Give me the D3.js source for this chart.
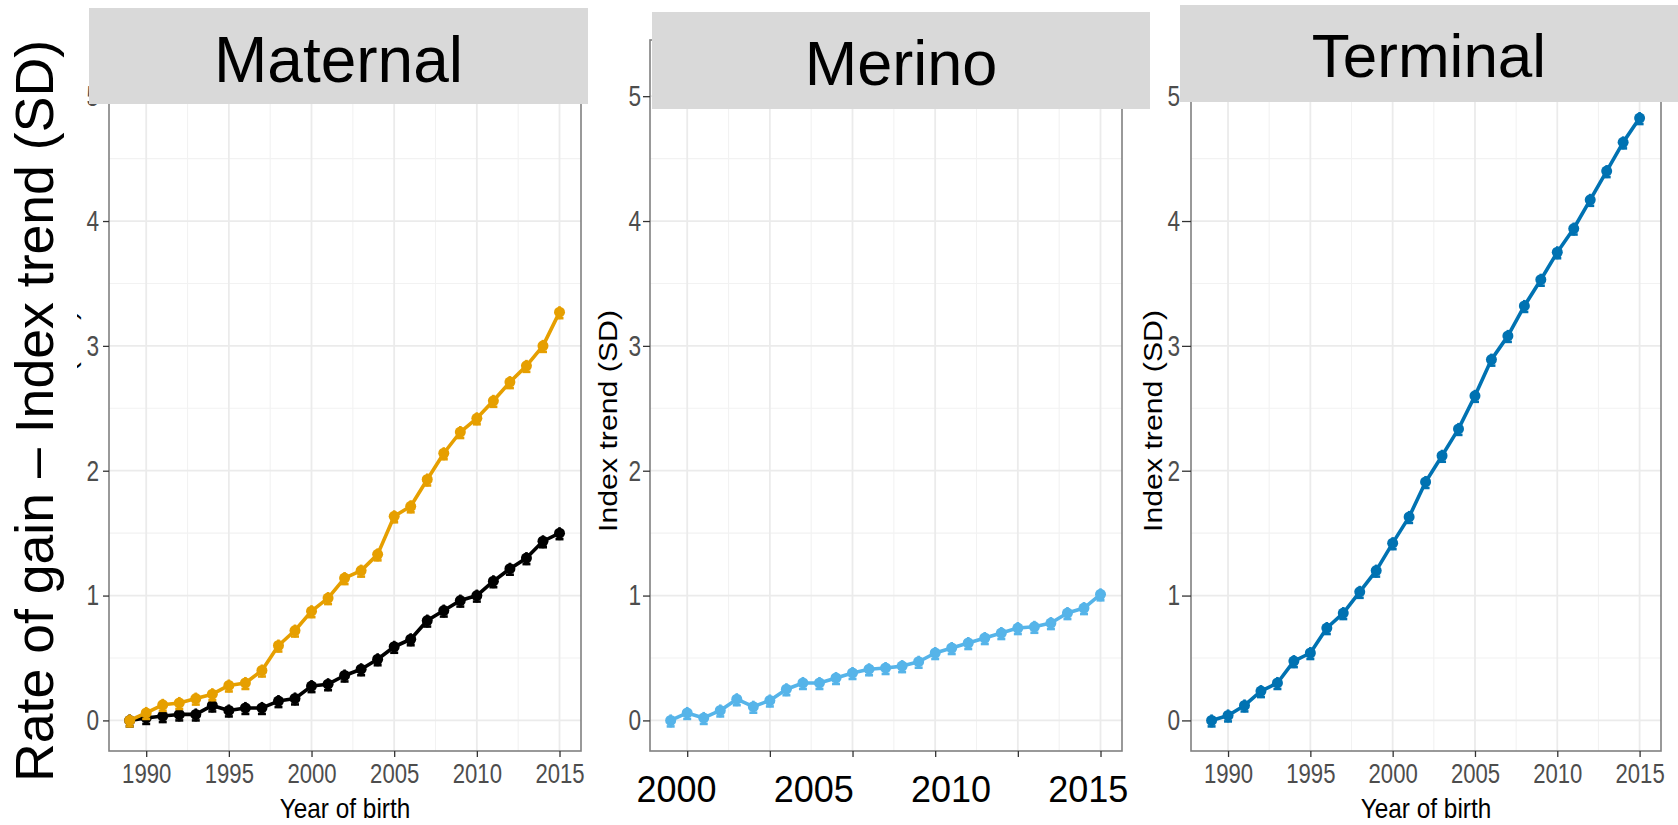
<!DOCTYPE html>
<html>
<head>
<meta charset="utf-8">
<script src="https://cdn.jsdelivr.net/npm/d3@7"></script>
<style>
  html, body { margin: 0; padding: 0; background: #fff; }
  svg { display: block; }
</style>
</head>
<body>
<svg id="chart" width="1678" height="825"></svg>
<script>
// ---- data -------------------------------------------------------------
const years = [1989, 1990, 1991, 1992, 1993, 1994, 1995, 1996, 1997, 1998,
               1999, 2000, 2001, 2002, 2003, 2004, 2005, 2006, 2007, 2008,
               2009, 2010, 2011, 2012, 2013, 2014, 2015];

// Maternal breed group: two index trends (orange and black)
const maternalOrange = [0.00, 0.06, 0.125, 0.14, 0.175, 0.21, 0.28, 0.30, 0.40, 0.60,
                        0.72, 0.875, 0.98, 1.14, 1.20, 1.33, 1.635, 1.715, 1.93, 2.14,
                        2.31, 2.42, 2.56, 2.71, 2.84, 3.00, 3.27];
const maternalBlack  = [0.00, 0.02, 0.035, 0.048, 0.048, 0.12, 0.08, 0.10, 0.10, 0.155,
                        0.176, 0.275, 0.29, 0.36, 0.41, 0.49, 0.59, 0.65, 0.80, 0.88,
                        0.96, 1.00, 1.115, 1.215, 1.30, 1.435, 1.50];
const merinoTrend    = [0.00, 0.06, 0.02, 0.08, 0.17, 0.11, 0.16, 0.25, 0.30, 0.30,
                        0.34, 0.38, 0.41, 0.42, 0.435, 0.47, 0.54, 0.58, 0.62, 0.66,
                        0.70, 0.74, 0.75, 0.78, 0.86, 0.90, 1.01];
const terminalTrend  = [0.00, 0.04, 0.12, 0.235, 0.30, 0.475, 0.54, 0.74, 0.86, 1.03,
                        1.20, 1.42, 1.63, 1.91, 2.12, 2.335, 2.60, 2.89, 3.08, 3.32,
                        3.53, 3.75, 3.94, 4.17, 4.40, 4.63, 4.825];

const panelTitles   = ["Maternal", "Merino", "Terminal"];
const yearTicks     = [1990, 1995, 2000, 2005, 2010, 2015];
const yearMinor     = [1992.5, 1997.5, 2002.5, 2007.5, 2012.5];
const valueTicks    = [0, 1, 2, 3, 4, 5];
const valueMinor    = [0.5, 1.5, 2.5, 3.5, 4.5];
const merinoYearLabels = [2000, 2005, 2010, 2015];

const overallTitle = "Rate of gain \u2013 Index trend (SD)";
const yTitle = "Index trend (SD)";
const xTitle = "Year of birth";

// ---- layout -----------------------------------------------------------
const svg = d3.select("#chart");
const SANS = "'Liberation Sans', Arial, Helvetica, sans-serif";
const xDomain = [1987.75, 2016.3];
const yDomain = [-0.245, 5.45];
const panelTop = 40, panelBottom = 751;

// squeeze text horizontally to a condensed look
function condense(sel, factor) {
  sel.each(function () {
    const w = this.getComputedTextLength();
    d3.select(this).attr("textLength", w * factor).attr("lengthAdjust", "spacingAndGlyphs");
  });
}

const panels = [
  { title: panelTitles[0], left: 109, right: 581, tick: 6, pad: 4,
    series: [{ values: maternalBlack, color: "#000000" },
             { values: maternalOrange, color: "#E69F00" }],
    strip: { x0: 89, x1: 588, y0: 8, y1: 104, size: 64, base: 82 },
    xLabels: true, xTitle: true, sideTitle: { x: 76 } },
  { title: panelTitles[1], left: 650, right: 1122, tick: 7, pad: 2,
    series: [{ values: merinoTrend, color: "#56B4E9" }],
    strip: { x0: 652, x1: 1150, y0: 12, y1: 109, size: 63, base: 85 },
    xLabels: false, xTitle: false, sideTitle: { x: 616.5 } },
  { title: panelTitles[2], left: 1191, right: 1661, tick: 9, pad: 2,
    series: [{ values: terminalTrend, color: "#0072B2" }],
    strip: { x0: 1180, x1: 1678, y0: 5, y1: 102, size: 62, base: 77 },
    xLabels: true, xTitle: true, sideTitle: { x: 1162 } }
];

const panelLayer = svg.append("g");
const stripLayer = svg.append("g");

panels.forEach(p => {
  const x = d3.scaleLinear().domain(xDomain).range([p.left, p.right]);
  const y = d3.scaleLinear().domain(yDomain).range([panelBottom, panelTop]);
  const g = panelLayer.append("g");

  // panel background + grid
  g.append("rect").attr("x", p.left).attr("y", panelTop)
    .attr("width", p.right - p.left).attr("height", panelBottom - panelTop)
    .attr("fill", "#fff");
  g.selectAll(".gxm").data(yearMinor).join("line")
    .attr("x1", d => x(d)).attr("x2", d => x(d))
    .attr("y1", panelTop).attr("y2", panelBottom)
    .attr("stroke", "#F2F2F2").attr("stroke-width", 1.1);
  g.selectAll(".gym").data(valueMinor).join("line")
    .attr("x1", p.left).attr("x2", p.right)
    .attr("y1", d => y(d)).attr("y2", d => y(d))
    .attr("stroke", "#F2F2F2").attr("stroke-width", 1.1);
  g.selectAll(".gx").data(yearTicks).join("line")
    .attr("x1", d => x(d)).attr("x2", d => x(d))
    .attr("y1", panelTop).attr("y2", panelBottom)
    .attr("stroke", "#EBEBEB").attr("stroke-width", 1.8);
  g.selectAll(".gy").data(valueTicks).join("line")
    .attr("x1", p.left).attr("x2", p.right)
    .attr("y1", d => y(d)).attr("y2", d => y(d))
    .attr("stroke", "#EBEBEB").attr("stroke-width", 1.8);

  // series: line, small error bars, points
  const line = d3.line().x((d, i) => x(years[i])).y(d => y(d));
  p.series.forEach(s => {
    g.append("path").datum(s.values)
      .attr("d", line).attr("fill", "none")
      .attr("stroke", s.color).attr("stroke-width", 3.6)
      .attr("stroke-linejoin", "round");
    const eb = g.append("g");
    eb.selectAll("line.v").data(s.values).join("line")
      .attr("x1", (d, i) => x(years[i])).attr("x2", (d, i) => x(years[i]))
      .attr("y1", d => y(d) - 6).attr("y2", d => y(d) + 7)
      .attr("stroke", s.color).attr("stroke-width", 2.6);
    eb.selectAll("line.c").data(s.values).join("line")
      .attr("x1", (d, i) => x(years[i]) - 4).attr("x2", (d, i) => x(years[i]) + 4)
      .attr("y1", d => y(d) + 6).attr("y2", d => y(d) + 6)
      .attr("stroke", s.color).attr("stroke-width", 2.6);
    g.selectAll(null).data(s.values).join("circle")
      .attr("cx", (d, i) => x(years[i])).attr("cy", d => y(d))
      .attr("r", 5.5).attr("fill", s.color);
  });

  // border
  g.append("rect").attr("x", p.left).attr("y", panelTop)
    .attr("width", p.right - p.left).attr("height", panelBottom - panelTop)
    .attr("fill", "none").attr("stroke", "#808080").attr("stroke-width", 1.6);

  // y axis
  const ya = g.append("g").attr("transform", `translate(${p.left},0)`)
    .call(d3.axisLeft(y).tickValues(valueTicks).tickSize(p.tick).tickPadding(p.pad)
      .tickFormat(d3.format("d")));
  ya.select(".domain").remove();
  ya.selectAll(".tick line").attr("stroke", "#333").attr("stroke-width", 1.3);
  ya.selectAll(".tick text").attr("fill", "#4D4D4D")
    .style("font-family", SANS).style("font-size", "29px")
    .call(condense, 0.78);

  // x axis
  const xa = g.append("g").attr("transform", `translate(0,${panelBottom})`)
    .call(d3.axisBottom(x).tickValues(yearTicks).tickSize(6).tickPadding(6)
      .tickFormat(p.xLabels ? d3.format("d") : () => ""));
  xa.select(".domain").remove();
  xa.selectAll(".tick line").attr("stroke", "#333").attr("stroke-width", 1.3);
  if (p.xLabels) {
    xa.selectAll(".tick text").attr("fill", "#4D4D4D")
      .style("font-family", SANS).style("font-size", "28px")
      .call(condense, 0.79);
  }

  if (p.xTitle) {
    g.append("text").attr("x", (p.left + p.right) / 2).attr("y", 818)
      .attr("text-anchor", "middle").attr("fill", "#000")
      .style("font-family", SANS).style("font-size", "28px")
      .text(xTitle)
      .call(condense, 0.87);
  }

  // vertical axis title
  g.append("text")
    .attr("transform", `translate(${p.sideTitle.x},421) rotate(-90)`)
    .attr("text-anchor", "middle").attr("fill", "#000")
    .attr("textLength", 222).attr("lengthAdjust", "spacingAndGlyphs")
    .style("font-family", SANS).style("font-size", "26px")
    .text(yTitle);

  // strip
  const st = p.strip;
  stripLayer.append("rect").attr("x", st.x0).attr("y", st.y0)
    .attr("width", st.x1 - st.x0).attr("height", st.y1 - st.y0)
    .attr("fill", "#D9D9D9");
  stripLayer.append("text").attr("x", (st.x0 + st.x1) / 2).attr("y", st.base)
    .attr("text-anchor", "middle").attr("fill", "#000")
    .style("font-family", SANS).style("font-size", st.size + "px")
    .text(p.title);
});

// Merino year labels on their own display scale across the panel width
const mp = panels[1];
const merinoLabelScale = d3.scaleLinear().domain([1999.05, 2016.25]).range([mp.left, mp.right]);
const ml = svg.append("g").attr("transform", `translate(0,${panelBottom})`)
  .call(d3.axisBottom(merinoLabelScale).tickValues(merinoYearLabels).tickSize(0).tickPadding(25)
    .tickFormat(d3.format("d")));
ml.select(".domain").remove();
ml.selectAll(".tick text").attr("fill", "#000")
  .style("font-family", SANS).style("font-size", "36px");

// overall title, on a white band over the first panel's own axis title
const titleLayer = svg.append("g");
titleLayer.append("rect").attr("x", 0).attr("y", 0).attr("width", 77).attr("height", 825)
  .attr("fill", "#fff");
titleLayer.append("text")
  .attr("transform", "translate(53,782) rotate(-90)")
  .attr("text-anchor", "start").attr("fill", "#000")
  .attr("textLength", 742).attr("lengthAdjust", "spacingAndGlyphs")
  .style("font-family", SANS).style("font-size", "53.5px")
  .text(overallTitle);
</script>
</body>
</html>
